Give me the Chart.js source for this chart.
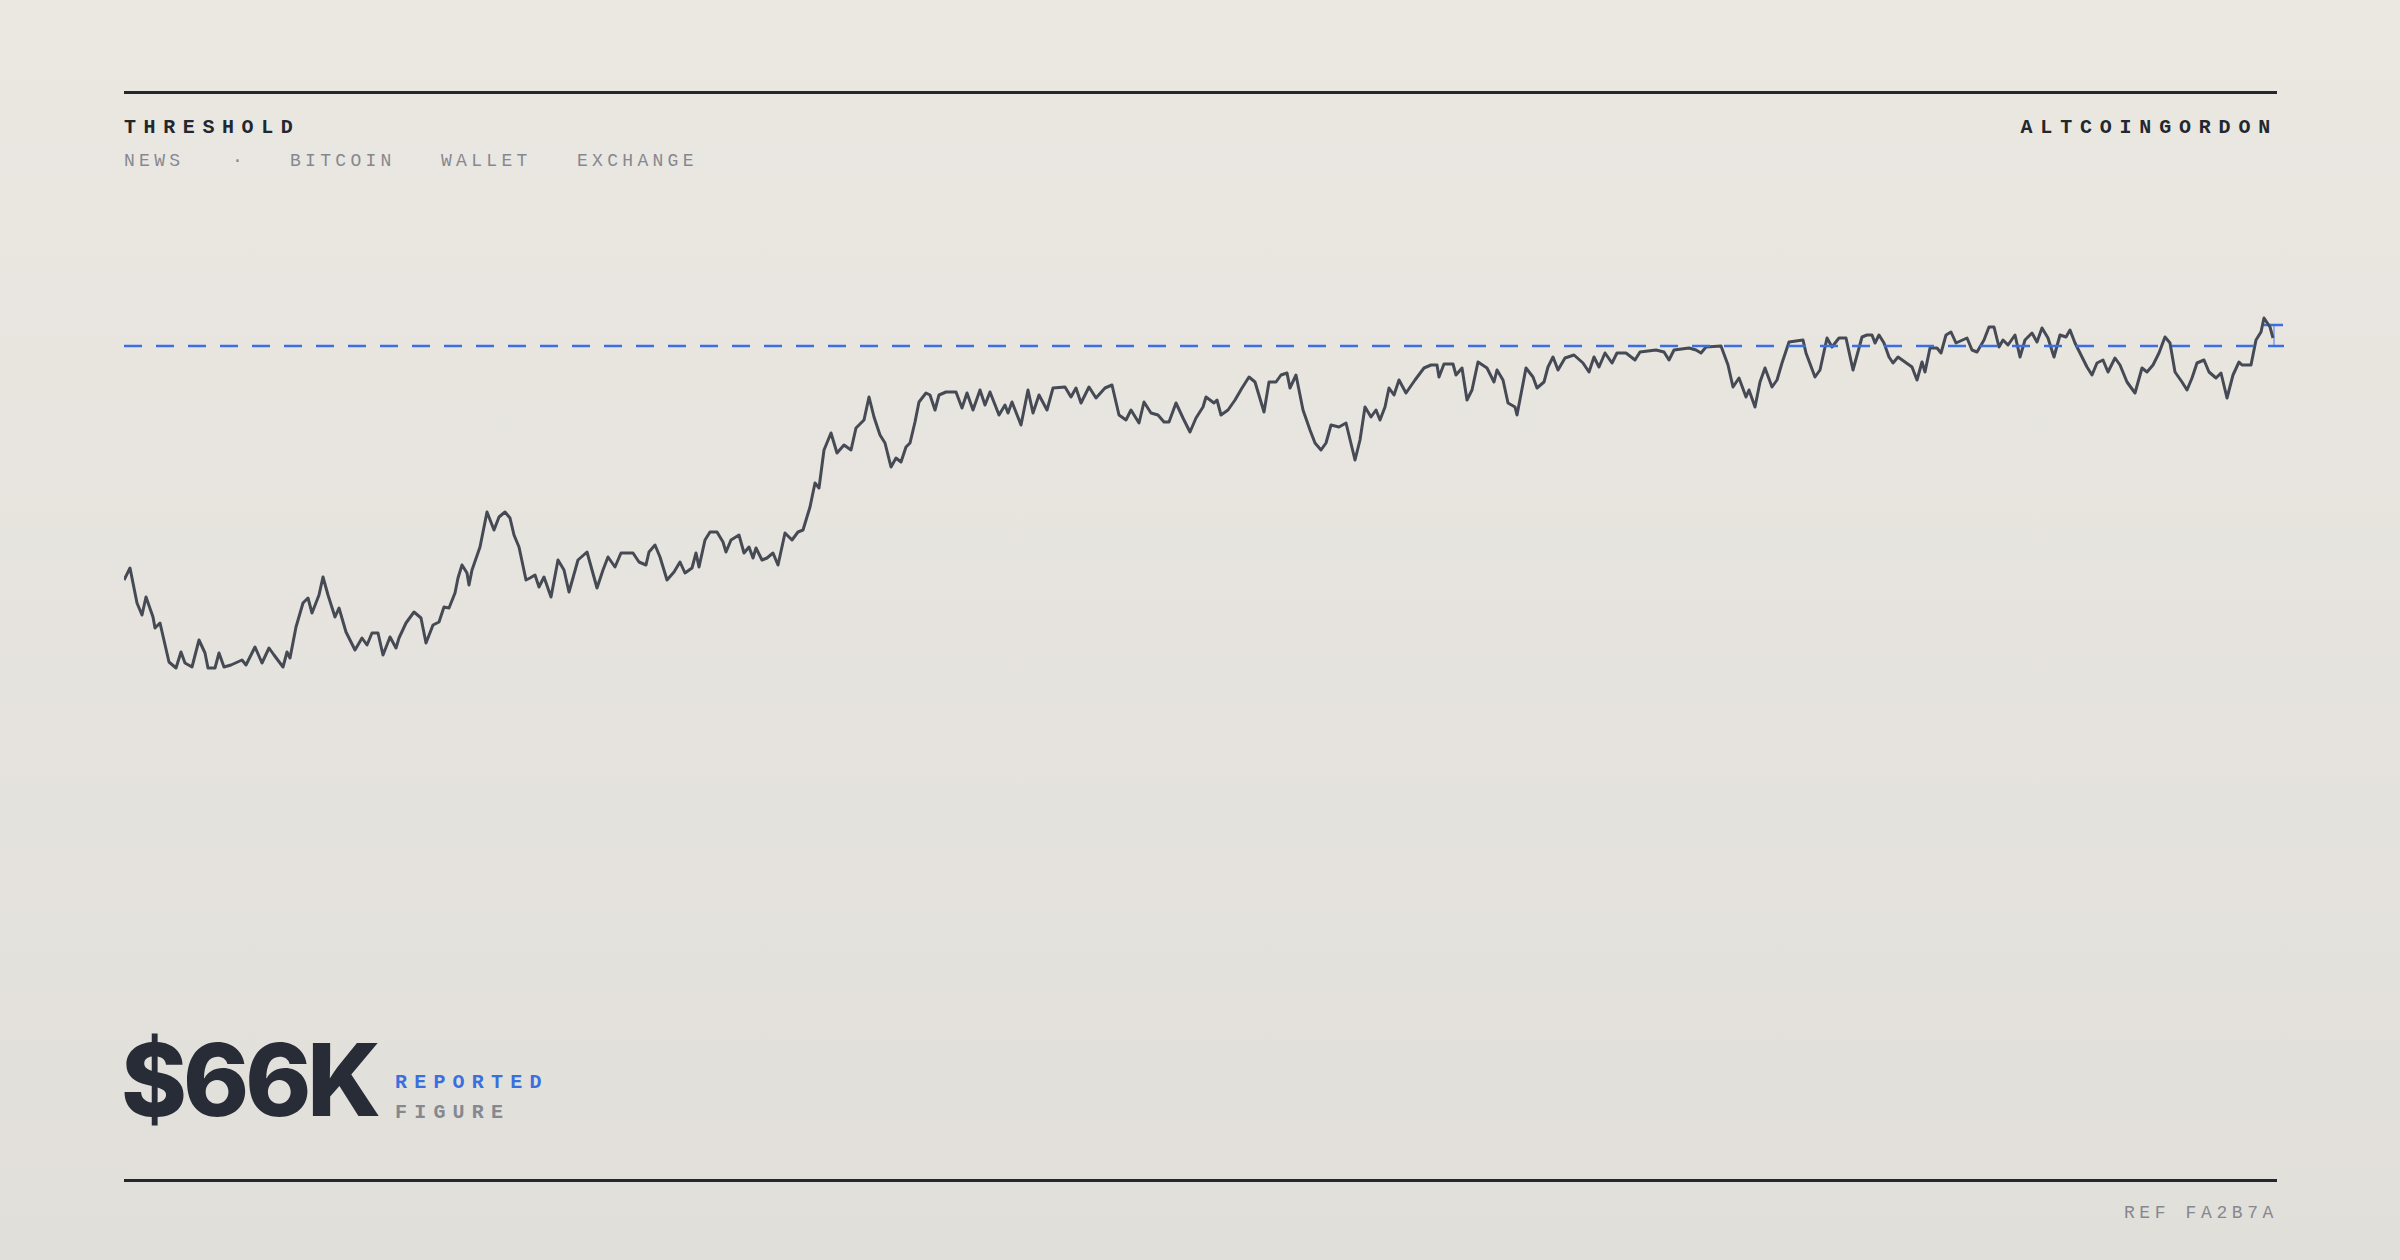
<!DOCTYPE html>
<html><head><meta charset="utf-8">
<script src="https://cdn.jsdelivr.net/npm/chart.js@4/dist/chart.umd.min.js"></script>
<style>
html,body{margin:0;padding:0;}
body{width:2400px;height:1260px;position:relative;overflow:hidden;background:linear-gradient(#ebe8e2,#e1dfda);font-family:"Liberation Mono","DejaVu Sans Mono",monospace;}
.rule{position:absolute;left:124px;width:2153px;height:3px;background:#23272f;}
.t{position:absolute;white-space:nowrap;line-height:1;}
#wrap{position:absolute;left:124px;top:250px;width:2160px;height:500px;}
</style></head><body>
<div class="rule" style="top:91px"></div>
<div class="rule" style="top:1179px"></div>
<div class="t" style="left:124px;top:118px;font-size:20px;font-weight:bold;letter-spacing:7.6px;color:#23272f">THRESHOLD</div>
<div class="t" style="right:122px;top:118px;font-size:20px;font-weight:bold;letter-spacing:7.8px;color:#23272f">ALTCOINGORDON</div>
<div class="t" style="left:124px;top:152px;font-size:18px;letter-spacing:4.3px;color:#868890">NEWS</div>
<div class="t" style="left:232px;top:152px;font-size:18px;color:#868890">·</div>
<div class="t" style="left:290px;top:152px;font-size:18px;letter-spacing:4.3px;color:#868890">BITCOIN</div>
<div class="t" style="left:441px;top:152px;font-size:18px;letter-spacing:4.3px;color:#868890">WALLET</div>
<div class="t" style="left:577px;top:152px;font-size:18px;letter-spacing:4.3px;color:#868890">EXCHANGE</div>
<div class="t" style="left:121px;top:1030px;font-family:Inter,'Liberation Sans',sans-serif;font-size:100px;font-weight:800;letter-spacing:-4px;color:#272c36">$66K</div>
<div class="t" style="left:395px;top:1073px;font-size:20px;font-weight:bold;letter-spacing:7.2px;color:#3a6fdf">REPORTED</div>
<div class="t" style="left:395px;top:1103px;font-size:20px;font-weight:bold;letter-spacing:7.2px;color:#868890">FIGURE</div>
<div class="t" style="right:122px;top:1204px;font-size:18px;letter-spacing:4.6px;color:#868890">REF FA2B7A</div>
<div id="wrap"><canvas id="c"></canvas></div>
<script>
const days = [0,6,13,18,22,29,31,36,45,52,57,61,68,75,81,84,91,95,100,107,118,122,131,138,145,150,159,163,166,172,179,184,188,195,199,204,211,215,222,231,238,243,248,254,259,266,272,275,282,290,297,302,309,315,320,325,331,334,338,343,345,348,356,363,370,375,381,386,390,395,402,406,411,415,420,427,434,440,445,454,463,473,479,484,491,497,509,515,522,525,531,
536,543,550,556,561,568,572,575,581,586,593,599,602,607,615,620,625,629,632,638,643,649,654,661,668,674,679,686,691,695,700,707,713,720,727,732,740,745,750,756,761,767,772,777,782,786,791,795,802,806,811,815,822,832,838,843,849,856,861,866,875,881,884,888,897,904,909,915,923,929,941,947,952,957,965,972,981,988,995,1002,1007,1015,1020,1027,1034,1040,1045,1052,1059,1066,1072,1079,1082,1090,
1093,1097,1104,1111,1118,1125,1131,1140,1145,1152,1157,1163,1166,1172,1179,1186,1191,1197,1202,1207,1215,1222,1231,1236,1241,1247,1252,1256,1261,1265,1270,1275,1282,1291,1300,1307,1313,1315,1320,1329,1332,1338,1343,1348,1354,1363,1370,1373,1379,1384,1391,1393,1402,1409,1413,1420,1424,1429,1434,1441,1450,1459,1465,1470,1475,1481,1488,1493,1502,1511,1516,1532,1540,1545,1550,1565,1572,1577,1582,1597,1604,1609,1615,1622,1625,1631,
1636,1641,1648,1653,1658,1665,1679,1682,1691,1696,1703,1708,1715,1722,1729,1738,1743,1748,1751,1755,1760,1765,1769,1774,1781,1788,1793,1798,1801,1806,1813,1817,1822,1827,1832,1843,1848,1853,1860,1865,1870,1875,1879,1884,1891,1896,1901,1908,1913,1918,1924,1930,1936,1942,1946,1951,1956,1963,1968,1973,1979,1984,1991,1996,2003,2011,2018,2023,2029,2035,2041,2046,2051,2058,2063,2068,2073,2080,2085,2092,2097,2103,2109,2115,2118,2127,2132,2137,2140,2146,2149];
const prices = [42.6,43.8,40.3,39.1,40.9,38.9,37.8,38.3,34.4,33.8,35.4,34.3,33.9,36.6,35.3,33.8,33.8,35.3,33.9,34.1,34.6,34.1,35.9,34.3,35.8,35.1,33.9,35.4,34.8,37.9,40.3,40.8,39.3,41.1,42.9,41.1,38.9,39.8,37.4,35.6,36.8,36.1,37.3,37.3,35.1,36.9,35.8,36.8,38.3,39.4,38.8,36.3,38.1,38.4,39.9,39.8,41.3,42.8,44.1,43.3,42.1,43.6,45.9,49.4,47.6,48.9,49.4,48.8,47.1,45.9,42.6,42.8,43.1,41.9,42.9,40.9,44.6,43.6,41.4,44.6,45.4,41.8,43.6,44.9,43.9,45.3,45.3,44.4,44.1,45.4,46.1,
44.9,42.6,43.4,44.4,43.3,43.8,45.3,43.9,46.6,47.4,47.4,46.4,45.4,46.6,47.1,45.3,45.9,44.8,45.8,44.6,44.8,45.3,44.1,47.3,46.6,47.4,47.6,49.9,52.3,51.8,55.6,57.3,55.3,56.1,55.6,57.8,58.6,60.9,58.9,57.1,56.3,53.9,54.8,54.4,55.9,56.3,58.4,60.4,61.3,61.1,59.6,61.1,61.4,61.4,59.8,61.3,59.6,61.6,60.1,61.4,59.1,60.1,59.3,60.4,58.1,61.6,59.3,61.1,59.6,61.8,61.9,60.9,61.8,60.3,61.9,60.8,61.8,62.1,59.1,58.6,59.6,58.3,60.4,59.3,59.1,58.4,58.4,60.3,58.8,57.4,58.8,59.9,60.9,60.3,
60.6,59.1,59.6,60.6,61.8,62.9,62.4,59.4,62.4,62.4,63.1,63.3,61.8,63.1,59.6,57.6,56.3,55.6,56.3,58.1,57.9,58.3,54.6,56.6,59.9,58.9,59.6,58.6,59.9,61.8,61.1,62.6,61.3,62.6,63.8,64.1,64.1,62.9,64.2,64.2,63.1,63.8,60.6,61.6,64.4,63.8,62.4,63.6,62.6,60.3,59.9,59.1,63.8,62.9,61.8,62.4,63.9,64.9,63.6,64.8,65.1,64.3,63.4,64.9,63.9,65.3,64.3,65.3,65.3,64.6,65.4,65.6,65.4,64.6,65.6,65.8,65.6,65.3,65.9,66.0,64.1,61.9,62.8,60.9,61.6,59.9,
62.4,63.8,61.9,62.6,64.3,66.4,66.6,65.3,62.9,63.6,66.8,65.9,66.8,66.8,63.6,66.9,67.1,67.1,66.3,67.1,66.3,64.9,64.3,64.9,64.4,63.9,62.6,64.4,63.4,65.8,65.8,65.3,67.1,67.4,66.3,66.8,65.6,65.4,66.6,67.9,67.9,65.9,66.6,66.1,67.1,64.9,66.6,67.3,66.4,67.8,66.8,64.9,67.1,66.9,67.6,66.3,65.3,63.9,63.1,64.3,64.6,63.4,64.8,64.1,62.4,61.3,63.8,63.4,64.1,65.3,66.9,66.3,63.4,62.4,61.6,62.8,64.3,64.6,63.4,62.8,63.3,60.8,63.1,64.4,64.1,64.1,66.6,67.4,68.8,67.9,66.8];
const threshold = 66;
const dayRange = [0, 2160];
const priceRange = [25.6, 75.6];
const tickDays = [2140, 2159];
const tickPrice = 68.1;
const tickStemDay = 2150;

const series = days.map((d,i)=>({x:d,y:prices[i]}));
new Chart(document.getElementById('c'), {
  type:'line',
  data:{datasets:[
    {data:[{x:dayRange[0],y:threshold},{x:dayRange[1],y:threshold}],borderColor:'#3a6fdf',borderWidth:2.5,borderDash:[18,14],pointRadius:0,tension:0},
    {data:series,borderColor:'#454a54',borderWidth:3,pointRadius:0,tension:0,borderJoinStyle:'round'},
    {data:[{x:tickDays[0],y:tickPrice},{x:tickDays[1],y:tickPrice}],borderColor:'#3a6fdf',borderWidth:2.5,pointRadius:0},
    {data:[{x:tickStemDay,y:threshold},{x:tickStemDay,y:tickPrice}],borderColor:'#7d9de8',borderWidth:1.5,pointRadius:0}
  ]},
  options:{
    responsive:true,maintainAspectRatio:false,animation:false,devicePixelRatio:1,
    layout:{padding:0},
    plugins:{legend:{display:false},tooltip:{enabled:false}},
    scales:{
      x:{type:'linear',min:dayRange[0],max:dayRange[1],display:false},
      y:{min:priceRange[0],max:priceRange[1],display:false}
    }
  }
});
</script>
</body></html>
